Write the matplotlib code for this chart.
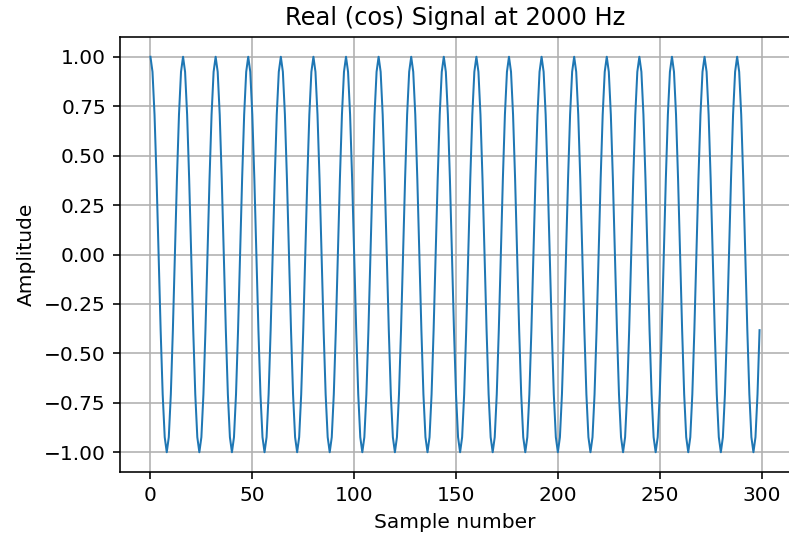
import numpy as np
import matplotlib
matplotlib.use("Agg")
import matplotlib.pyplot as plt

# signal parameters
freq = 2000        # Hz, from the title
fs = 32000         # samples/s -> one period every 16 samples
n_samples = 300

n = np.arange(n_samples)
signal = np.cos(2 * np.pi * freq * n / fs)

dpi = 145
fig = plt.figure(figsize=(789 / dpi, 536 / dpi), dpi=dpi)
ax = fig.add_axes([120 / 789, 64 / 536, 670 / 789, 435 / 536])

ax.plot(n, signal, lw=1.0)
ax.set_title("Real (cos) Signal at 2000 Hz")
ax.set_xlabel("Sample number")
ax.set_ylabel("Amplitude")
ax.grid(True)

fig.savefig("out.png", dpi=dpi)
